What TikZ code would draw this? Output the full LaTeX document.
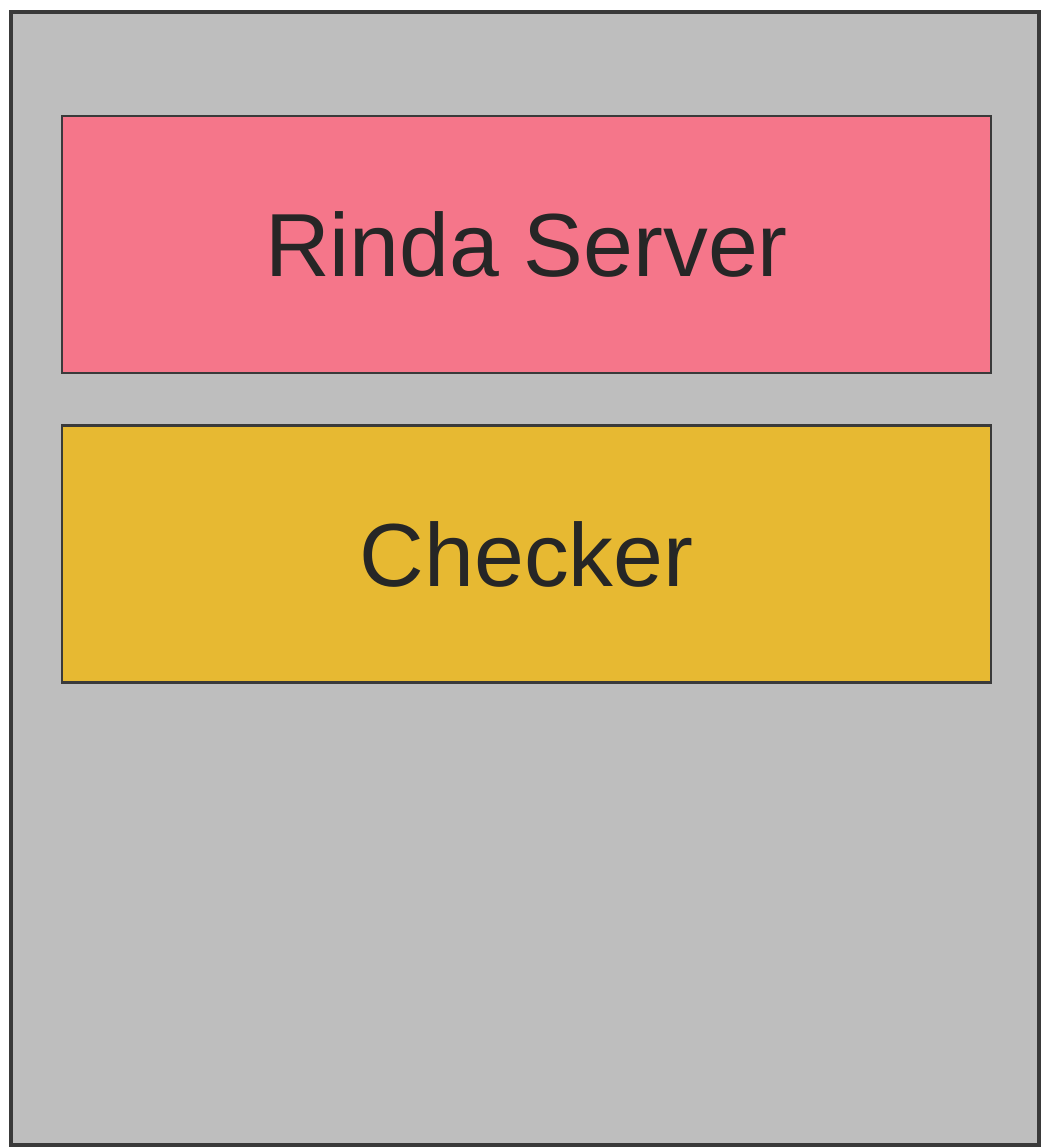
\documentclass[tikz,border=0pt]{standalone}
\usepackage{fontspec}
\setmainfont{Liberation Sans}
\definecolor{panelgray}{HTML}{BEBEBE}
\definecolor{serverpink}{HTML}{F5768A}
\definecolor{checkeryellow}{HTML}{E7B932}
\definecolor{edgegray}{HTML}{3A3A3A}
\begin{document}
\begin{tikzpicture}[
        x=0.02cm, y=-0.02cm,
        box/.style={
            rectangle, draw=edgegray, line width=1.5pt,
            minimum height=5.14cm, minimum width=18.58cm,
            text centered, font=\fontsize{51}{60}\selectfont,
            text=black!85, inner sep=0pt
        }
    ]
        \useasboundingbox (0,0) rectangle (1041,1148);

        % Contenedor
        \draw[draw=edgegray, line width=1.8pt, fill=panelgray] (11,12) rectangle (1039,1145);

        % Componentes
        \node[box, fill=serverpink] (server) at (526.5,244.5) {Rinda Server};
        \node[box, fill=checkeryellow] (checker) at (526.5,554) {Checker};

    \end{tikzpicture}
\end{document}
